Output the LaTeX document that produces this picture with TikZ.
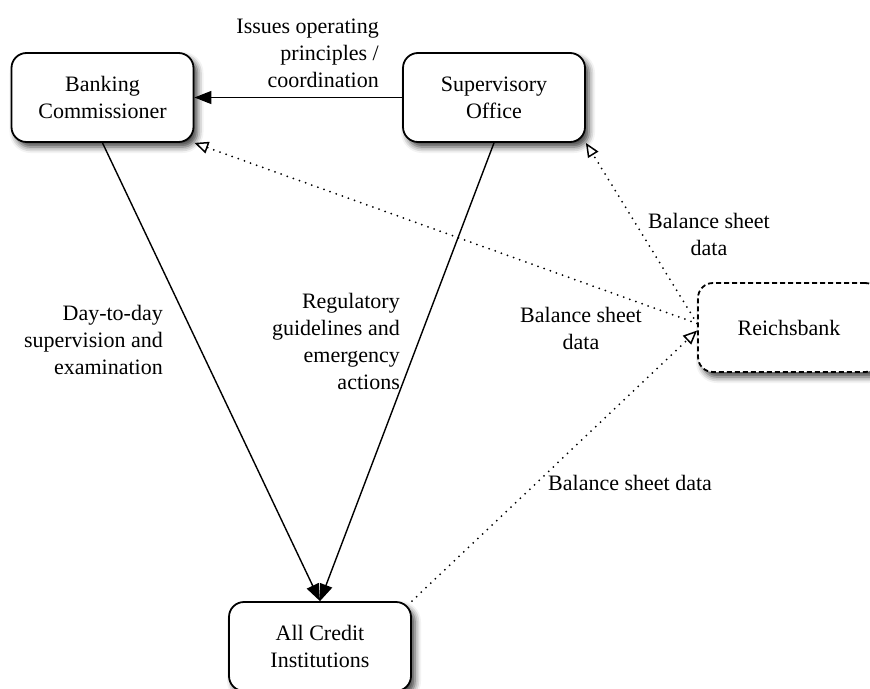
\documentclass[tikz,border=0pt]{standalone}
\usepackage{fontspec}
\setmainfont{Liberation Serif}
\usetikzlibrary{arrows.meta,shadows.blur,calc}

\begin{document}
\begin{tikzpicture}[x=1pt,y=-1pt,
  txt/.style={font=\fontsize{22}{27}\selectfont},
  box/.style={txt, draw=black, line width=1.8pt, rounded corners=15pt, fill=white,
    minimum width=182pt, minimum height=89pt, align=center, inner sep=0pt,
    blur shadow={shadow xshift=4pt, shadow yshift=-5pt, shadow blur radius=6pt, shadow opacity=75}},
  dashedbox/.style={box, dash pattern=on 5pt off 3pt},
  lbl/.style={txt, inner sep=0pt},
  flow/.style={line width=1.4pt, -{Triangle[length=17pt,width=13pt]}},
  data/.style={line width=2pt, dash pattern=on 0pt off 6.5pt, line cap=round,
    -{Triangle[open, length=14pt, width=12pt, line width=1.5pt]}}
]
\useasboundingbox (0,0) rectangle (870,688);
\clip (0,0) rectangle (870,688);

% institutions
\node[box] (bc) at (102.5,97.5) {Banking\\Commissioner};
\node[box] (so) at (494,97.5) {Supervisory\\Office};
\node[dashedbox] (rb) at (789,327.5) {Reichsbank};
\node[box] (aci) at (320,646.5) {All Credit\\Institutions};

% lines of authority
\draw[flow] (so.west) -- (bc.east);
\draw[flow] (bc.south) -- (aci.north);
\draw[flow] (so.south) -- (aci.north);

% reporting of balance sheet data
\coordinate (rbout) at ($(rb.west)+(0,-4)$);
\coordinate (rbin) at ($(rb.west)+(0,3)$);
\draw[data] (rbout) -- (bc.south east);
\draw[data] (rbout) -- (so.south east);
\draw[data] (aci.north east) -- (rbin);

% labels
\node[lbl, anchor=east, align=right] (l1) at (379,53) {Issues operating\\principles /\\coordination};
\node[lbl, anchor=east, align=right] (l2) at (163,340) {Day-to-day\\supervision and\\examination};
\node[lbl, anchor=east, align=right] (l3) at (400,341) {Regulatory\\guidelines and\\emergency\\actions};
\node[lbl, align=center] (l4) at (709,234) {Balance sheet\\data};
\node[lbl, align=center] (l5) at (581,328) {Balance sheet\\data};
\node[lbl, anchor=west] (l6) at (548,483) {Balance sheet data};
\end{tikzpicture}
\end{document}
